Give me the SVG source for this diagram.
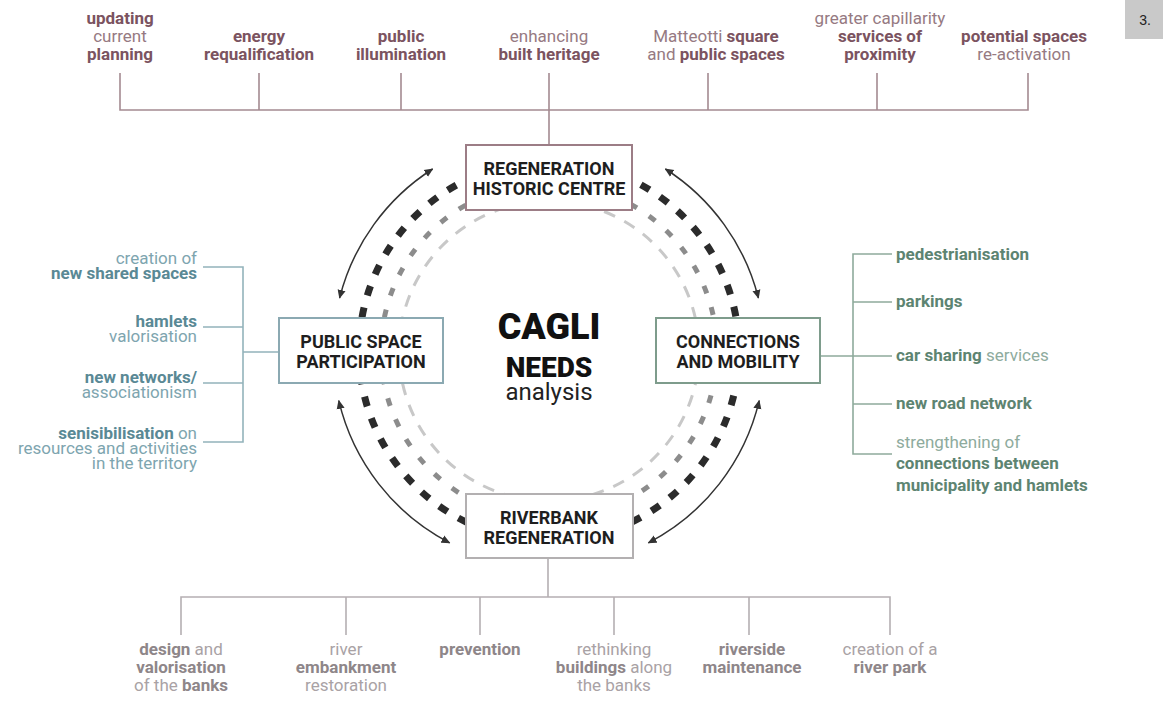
<svg xmlns="http://www.w3.org/2000/svg" width="1168" height="701" viewBox="0 0 1168 701">
<style>
text{font-family:Roboto,"Liberation Sans",sans-serif;font-size:17px}
.b{font-weight:700}
.r{font-weight:400}
.tm{text-anchor:middle}
.te{text-anchor:end}
.top .b{fill:#7b5360}.top .r{fill:#967a82}
.lft .b{fill:#5a8995}.lft .r{fill:#7ea5af}
.rgt .b{fill:#5d8471}.rgt .r{fill:#8eab9d}
.bot .b{fill:#8e8689}.bot .r{fill:#a9a2a5}
.ln{fill:none;stroke-width:1.6}
.box{fill:#fff;stroke-width:2}
.bt{font-size:18px;font-weight:700;fill:#1e1e1e;text-anchor:middle}
.arc{fill:none;stroke:#333;stroke-width:1.5;marker-start:url(#ah);marker-end:url(#ah)}
</style>
<defs>
<marker id="ah" viewBox="0 0 10 10" refX="9" refY="5" markerWidth="9" markerHeight="9" markerUnits="userSpaceOnUse" orient="auto-start-reverse">
<path d="M0,0.5 L10,5 L0,9.5 Z" fill="#333"/>
</marker>
</defs>
<rect width="1168" height="701" fill="#fff"/>

<!-- page number -->
<rect x="1125" y="0" width="38" height="39" fill="#c9c9c9"/>
<text x="1145" y="25" text-anchor="middle" style="font-family:'Liberation Sans',Arial,sans-serif;font-size:14px;fill:#222">3.</text>

<!-- dashed rings -->
<g id="rings">
<circle cx="549" cy="351" r="190" fill="none" stroke="#2b2b2b" stroke-width="7" stroke-dasharray="10 12.52"/>
<circle cx="549" cy="351" r="168" fill="none" stroke="#8c8c8c" stroke-width="5" stroke-dasharray="8 14.46"/>
<circle cx="549" cy="351" r="150" fill="none" stroke="#c8c8c8" stroke-width="3" stroke-dasharray="12 10.44"/>
</g>

<!-- connectors -->
<g id="connectors">
<path class="ln" stroke="#a48a91" d="M120,73V110H1028V73M259,73V110M401,73V110M708,73V110M877,73V110M549,73V145"/>
<path class="ln" stroke="#93b3bb" d="M203,267H243V442H203M203,327H243M203,383H243M243,352H279"/>
<path class="ln" stroke="#8eab9c" d="M892,254H853V454H892M853,302H892M853,404H892M819,356H892"/>
<path class="ln" stroke="#b5afb2" d="M548,558V597M181,635V597H890V635M346,597V635M480,597V635M614,597V635M749,597V635"/>
<path class="arc" d="M339.6,298 A216,216 0 0 1 432.6,169"/>
<path class="arc" d="M665.4,169 A216,216 0 0 1 758.4,298"/>
<path class="arc" d="M338.8,400.7 A216,216 0 0 0 449.6,542.8"/>
<path class="arc" d="M759.2,400.7 A216,216 0 0 1 648.4,542.8"/>
</g>

<!-- center title -->
<g id="title">
<text x="549" y="339" class="tm" style="font-size:36px;font-weight:900;fill:#111">CAGLI</text>
<text x="549" y="377" class="tm" style="font-size:28px;font-weight:900;fill:#111">NEEDS</text>
<text x="549" y="400" class="tm" style="font-size:24px;font-weight:400;fill:#222">analysis</text>
</g>

<!-- main nodes -->
<g id="node-historic">
<rect class="box" x="466" y="145" width="166" height="65" stroke="#9c7d86"/>
<text class="bt" x="549" y="175">REGENERATION</text>
<text class="bt" x="549" y="195">HISTORIC CENTRE</text>
</g>
<g id="node-public">
<rect class="box" x="279" y="318" width="164" height="65" stroke="#8ba9b2"/>
<text class="bt" x="361" y="348">PUBLIC SPACE</text>
<text class="bt" x="361" y="368">PARTICIPATION</text>
</g>
<g id="node-connections">
<rect class="box" x="656" y="318" width="164" height="65" stroke="#7e9c8c"/>
<text class="bt" x="738" y="348">CONNECTIONS</text>
<text class="bt" x="738" y="368">AND MOBILITY</text>
</g>
<g id="node-riverbank">
<rect class="box" x="466" y="494" width="167" height="64" stroke="#b3b0b1"/>
<text class="bt" x="549" y="524">RIVERBANK</text>
<text class="bt" x="549" y="544">REGENERATION</text>
</g>

<!-- top items -->
<g class="top">
<g id="t-updating"><text class="tm" x="120" y="24"><tspan class="b">updating</tspan></text><text class="tm" x="120" y="42"><tspan class="r">current</tspan></text><text class="tm" x="120" y="60"><tspan class="b">planning</tspan></text></g>
<g id="t-energy"><text class="tm" x="259" y="42"><tspan class="b">energy</tspan></text><text class="tm" x="259" y="60"><tspan class="b">requalification</tspan></text></g>
<g id="t-illumination"><text class="tm" x="401" y="42"><tspan class="b">public</tspan></text><text class="tm" x="401" y="60"><tspan class="b">illumination</tspan></text></g>
<g id="t-heritage"><text class="tm" x="549" y="42"><tspan class="r">enhancing</tspan></text><text class="tm" x="549" y="60"><tspan class="b">built heritage</tspan></text></g>
<g id="t-matteotti"><text class="tm" x="716" y="42"><tspan class="r">Matteotti </tspan><tspan class="b">square</tspan></text><text class="tm" x="716" y="60"><tspan class="r">and </tspan><tspan class="b">public spaces</tspan></text></g>
<g id="t-proximity"><text class="tm" x="880" y="24"><tspan class="r">greater capillarity</tspan></text><text class="tm" x="880" y="42"><tspan class="b">services of</tspan></text><text class="tm" x="880" y="60"><tspan class="b">proximity</tspan></text></g>
<g id="t-potential"><text class="tm" x="1024" y="42"><tspan class="b">potential spaces</tspan></text><text class="tm" x="1024" y="60"><tspan class="r">re-activation</tspan></text></g>
</g>

<!-- left items -->
<g class="lft">
<g id="l-shared"><text class="te" x="197" y="264"><tspan class="r">creation of</tspan></text><text class="te" x="197" y="279"><tspan class="b">new shared spaces</tspan></text></g>
<g id="l-hamlets"><text class="te" x="197" y="327"><tspan class="b">hamlets</tspan></text><text class="te" x="197" y="342"><tspan class="r">valorisation</tspan></text></g>
<g id="l-networks"><text class="te" x="197" y="383"><tspan class="b">new networks/</tspan></text><text class="te" x="197" y="398"><tspan class="r">associationism</tspan></text></g>
<g id="l-sensib"><text class="te" x="197" y="439"><tspan class="b">senisibilisation</tspan><tspan class="r"> on</tspan></text><text class="te" x="197" y="454"><tspan class="r">resources and activities</tspan></text><text class="te" x="197" y="469"><tspan class="r">in the territory</tspan></text></g>
</g>

<!-- right items -->
<g class="rgt">
<g id="r-pedestrian"><text x="896" y="260"><tspan class="b">pedestrianisation</tspan></text></g>
<g id="r-parkings"><text x="896" y="307"><tspan class="b">parkings</tspan></text></g>
<g id="r-carsharing"><text x="896" y="361"><tspan class="b">car sharing</tspan><tspan class="r"> services</tspan></text></g>
<g id="r-road"><text x="896" y="409"><tspan class="b">new road network</tspan></text></g>
<g id="r-strength"><text x="896" y="448"><tspan class="r">strengthening of</tspan></text><text x="896" y="469"><tspan class="b">connections between</tspan></text><text x="896" y="491"><tspan class="b">municipality and hamlets</tspan></text></g>
</g>

<!-- bottom items -->
<g class="bot">
<g id="b-design"><text class="tm" x="181" y="655"><tspan class="b">design</tspan><tspan class="r"> and</tspan></text><text class="tm" x="181" y="673"><tspan class="b">valorisation</tspan></text><text class="tm" x="181" y="691"><tspan class="r">of the </tspan><tspan class="b">banks</tspan></text></g>
<g id="b-embank"><text class="tm" x="346" y="655"><tspan class="r">river</tspan></text><text class="tm" x="346" y="673"><tspan class="b">embankment</tspan></text><text class="tm" x="346" y="691"><tspan class="r">restoration</tspan></text></g>
<g id="b-prevention"><text class="tm" x="480" y="655"><tspan class="b">prevention</tspan></text></g>
<g id="b-buildings"><text class="tm" x="614" y="655"><tspan class="r">rethinking</tspan></text><text class="tm" x="614" y="673"><tspan class="b">buildings</tspan><tspan class="r"> along</tspan></text><text class="tm" x="614" y="691"><tspan class="r">the banks</tspan></text></g>
<g id="b-riverside"><text class="tm" x="752" y="655"><tspan class="b">riverside</tspan></text><text class="tm" x="752" y="673"><tspan class="b">maintenance</tspan></text></g>
<g id="b-park"><text class="tm" x="890" y="655"><tspan class="r">creation of a</tspan></text><text class="tm" x="890" y="673"><tspan class="b">river park</tspan></text></g>
</g>
</svg>
